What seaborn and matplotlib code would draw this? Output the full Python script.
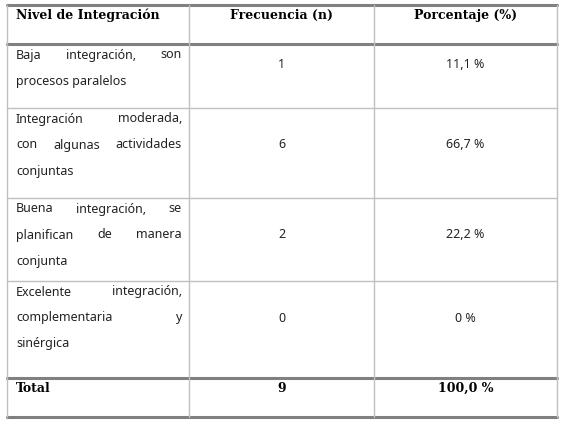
import matplotlib
matplotlib.use("Agg")
import matplotlib.pyplot as plt
import seaborn as sns

# table content
encabezados = ["Nivel de Integración", "Frecuencia (n)", "Porcentaje (%)"]
niveles = [
    ["Baja integración, son", "procesos paralelos"],
    ["Integración moderada,", "con algunas actividades", "conjuntas"],
    ["Buena integración, se", "planifican de manera", "conjunta"],
    ["Excelente integración,", "complementaria y", "sinérgica"],
]
frecuencia = ["1", "6", "2", "0"]
porcentaje = ["11,1 %", "66,7 %", "22,2 %", "0 %"]
total = ["Total", "9", "100,0 %"]

sns.set_style("white")
fig = plt.figure(figsize=(5.61, 4.22), dpi=100)
ax = fig.add_axes([0, 0, 1, 1])
ax.set_xlim(0, 561)
ax.set_ylim(422, 0)
ax.axis("off")
renderer = fig.canvas.get_renderer()

x0, x1, x2, x3 = 7, 189, 374, 557
row_tops = [44, 108, 198, 281, 378]
line_h = 26
dark = "#808080"
light = "#c0c0c0"

# borders
ax.plot([x0, x3], [5, 5], color=dark, lw=2.2)
ax.plot([x0, x3], [44, 44], color=dark, lw=2.2)
for y in row_tops[1:4]:
    ax.plot([x0, x3], [y, y], color=light, lw=1)
ax.plot([x0, x3], [378, 378], color=dark, lw=2.2)
ax.plot([x0, x3], [417, 417], color=dark, lw=2.2)
for x in (x0, x1, x2, x3):
    ax.plot([x, x], [5, 417], color=light, lw=1)

hfont = dict(family="DejaVu Serif", fontweight="bold", fontsize=9, color="black")
bfont = dict(family="Noto Sans", fontsize=9, color="#222222")

ax.text(16, 15, encabezados[0], ha="left", va="center", **hfont)
ax.text((x1 + x2) / 2, 15, encabezados[1], ha="center", va="center", **hfont)
ax.text((x2 + x3) / 2, 15, encabezados[2], ha="center", va="center", **hfont)


def justified(words_line, y, last):
    words = words_line.split()
    left, right = 16, 182
    if last or len(words) == 1:
        ax.text(left, y, words_line, ha="left", va="center", **bfont)
        return
    texts = [ax.text(0, y, w, ha="left", va="center", **bfont) for w in words]
    widths = [t.get_window_extent(renderer).width for t in texts]
    gap = (right - left - sum(widths)) / (len(words) - 1)
    x = left
    for t, w in zip(texts, widths):
        t.set_x(x)
        x += w + gap


for i, lines in enumerate(niveles):
    top = row_tops[i]
    for j, ln in enumerate(lines):
        justified(ln, top + 11 + j * line_h, j == len(lines) - 1)
    ymid = top + 11 + (len(lines) - 1) * line_h / 2
    if len(lines) == 2:
        ymid = top + 21
    ax.text((x1 + x2) / 2, ymid, frecuencia[i], ha="center", va="center", **bfont)
    ax.text((x2 + x3) / 2, ymid, porcentaje[i], ha="center", va="center", **bfont)

ax.text(16, 388, total[0], ha="left", va="center", **hfont)
ax.text((x1 + x2) / 2, 388, total[1], ha="center", va="center", **hfont)
ax.text((x2 + x3) / 2, 388, total[2], ha="center", va="center", **hfont)

fig.savefig("out.png", dpi=100)
